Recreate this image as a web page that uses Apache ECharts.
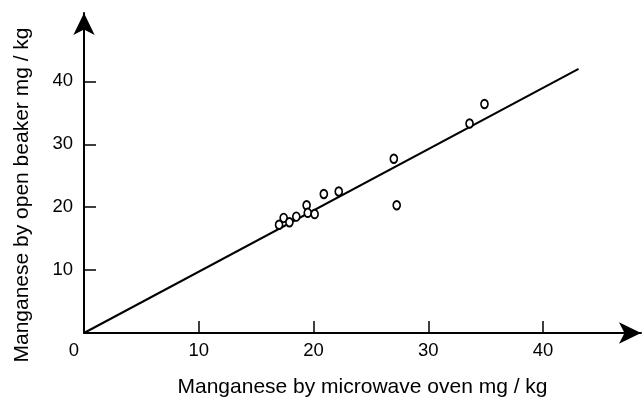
<!DOCTYPE html>
<html>
<head>
<meta charset="utf-8">
<script src="https://cdn.jsdelivr.net/npm/echarts@6/dist/echarts.min.js"></script>
<style>html,body{margin:0;padding:0;background:#fff}#c{width:643px;height:403px}</style>
</head>
<body>
<div id="c"></div>
<script>
// Measured data (mg/kg)
const microwave = [17.0, 17.4, 17.9, 18.5, 19.4, 19.5, 20.1, 20.9, 22.2, 27.0, 27.25, 33.6, 34.9];
const beaker    = [17.2, 18.3, 17.6, 18.5, 20.3, 19.1, 18.9, 22.1, 22.5, 27.7, 20.3, 33.3, 36.4];
// Fitted line endpoints
const fitX = [0, 43.1];
const fitY = [0, 42.0];
const xTicks = [0, 10, 20, 30, 40];
const yTicks = [10, 20, 30, 40];
const xTitle = 'Manganese by microwave oven mg / kg';
const yTitle = 'Manganese by open beaker mg / kg';

const font = '"Liberation Sans", Arial, Helvetica, sans-serif';
const chart = echarts.init(document.getElementById('c'));
chart.setOption({
  animation: false,
  backgroundColor: '#fff',
  grid: { left: 84, right: 2, top: 13, bottom: 67 },
  xAxis: {
    type: 'value', min: 0, max: 48.54,
    splitLine: { show: false },
    axisLine: { onZero: false, symbol: ['none', 'arrow'], symbolSize: [16, 22],
      lineStyle: { color: '#000', width: 2 } },
    axisTick: { inside: true, length: 12, customValues: yTicks, lineStyle: { color: '#000', width: 1.5 } },
    axisLabel: {
      customValues: xTicks, margin: 8, color: '#000', fontSize: 18.5, fontFamily: font,
      formatter: v => v === 0 ? '{z|0}' : String(v),
      rich: { z: { fontSize: 18.5, fontFamily: font, color: '#000', padding: [0, 20, 0, 0] } }
    },
    name: xTitle, nameLocation: 'middle', nameGap: 44,
    nameTextStyle: { color: '#000', fontSize: 21, fontFamily: font }
  },
  yAxis: {
    type: 'value', min: 0, max: 50.87,
    splitLine: { show: false },
    axisLine: { onZero: false, symbol: ['none', 'arrow'], symbolSize: [16, 22],
      lineStyle: { color: '#000', width: 2 } },
    axisTick: { inside: true, length: 12, customValues: yTicks, lineStyle: { color: '#000', width: 1.5 } },
    axisLabel: { customValues: yTicks, margin: 11, color: '#000', fontSize: 18.5, fontFamily: font }
  },
  graphic: [{
    type: 'text', x: 22, y: 195, rotation: Math.PI / 2,
    style: { text: yTitle, fill: '#000', fontSize: 21, fontFamily: font,
      align: 'center', verticalAlign: 'middle' }
  }],
  series: [
    {
      type: 'line', data: fitX.map((x, i) => [x, fitY[i]]),
      showSymbol: false, symbol: 'none',
      lineStyle: { color: '#000', width: 2 }, z: 2
    },
    {
      type: 'scatter', data: microwave.map((x, i) => [x, beaker[i]]),
      symbol: 'circle', symbolSize: [7, 8.5],
      itemStyle: { color: '#fff', borderColor: '#000', borderWidth: 1.8, opacity: 1 }, z: 3
    }
  ]
});
</script>
</body>
</html>
